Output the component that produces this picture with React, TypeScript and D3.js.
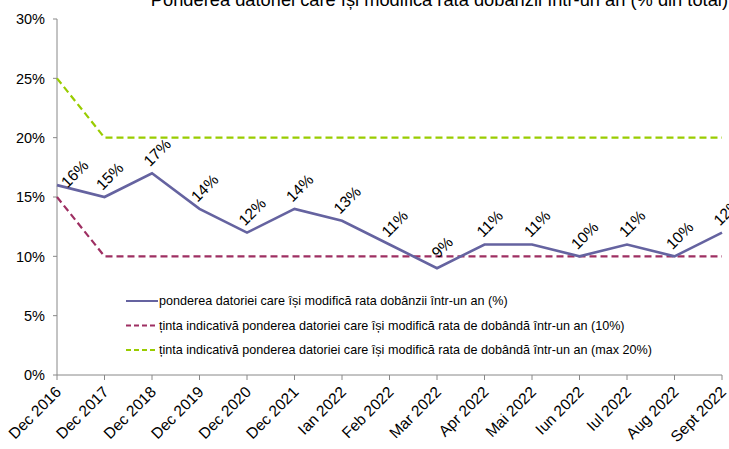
import React from "react";
import * as d3 from "d3";

const categories = ["Dec 2016","Dec 2017","Dec 2018","Dec 2019","Dec 2020","Dec 2021","Ian 2022","Feb 2022","Mar 2022","Apr 2022","Mai 2022","Iun 2022","Iul 2022","Aug 2022","Sept 2022"];
const pondere = [16,15,17,14,12,14,13,11,9,11,11,10,11,10,12];
const tinta10 = [15,10,10,10,10,10,10,10,10,10,10,10,10,10,10];
const tinta20 = [25,20,20,20,20,20,20,20,20,20,20,20,20,20,20];
const yTicks = [0,5,10,15,20,25,30];
const title = "Ponderea datoriei care își modifică rata dobânzii într-un an (% din total)";
const legendLabels = [
  "ponderea datoriei care își modifică rata dobânzii într-un an (%)",
  "ținta indicativă ponderea datoriei  care își modifică rata de dobândă într-un an (10%)",
  "ținta indicativă ponderea datoriei care își modifică rata de dobândă într-un an (max 20%)",
];

const C_MAIN = "#6563A0";
const C_RED = "#9E2F62";
const C_GREEN = "#99CC00";
const FONT = "Arial, 'Liberation Sans', sans-serif";

export default function App() {
  const W = 729, H = 449;
  const left = 57, right = 722, bottom = 375, top = 19;
  const x = d3.scalePoint<string>().domain(categories).range([left, right]);
  const y = d3.scaleLinear().domain([0, 30]).range([bottom, top]);
  const line = d3.line<number>().x((_, i) => x(categories[i])!).y(d => y(d));
  const series = [
    { data: pondere, color: C_MAIN, dash: undefined as string | undefined, w: 2.6 },
    { data: tinta10, color: C_RED, dash: "7,4", w: 2.2 },
    { data: tinta20, color: C_GREEN, dash: "7,4", w: 2.2 },
  ];
  return (
    <svg width={W} height={H} style={{ position: "absolute", left: 0, top: 0, background: "#fff" }} fontFamily={FONT}>
      <rect width={W} height={H} fill="#fff" />
      <text x={728} y={6} textAnchor="end" fontSize={18.3} fill="#000">{title}</text>
      {/* y axis */}
      <line x1={left} x2={left} y1={top} y2={bottom} stroke="#888" />
      {yTicks.map(t => (
        <g key={t}>
          <line x1={left - 4} x2={left} y1={y(t)} y2={y(t)} stroke="#888" />
          <text x={45} y={y(t)} dy="0.36em" textAnchor="end" fontSize={14.5}>{t}%</text>
        </g>
      ))}
      {/* x axis */}
      <line x1={left} x2={right} y1={bottom} y2={bottom} stroke="#888" />
      {categories.map(c => (
        <g key={c}>
          <line x1={x(c)} x2={x(c)} y1={bottom} y2={bottom + 5} stroke="#888" />
          <text transform={`translate(${x(c)! + 5},${bottom + 18}) rotate(-45)`} textAnchor="end" fontSize={15.5}>{c}</text>
        </g>
      ))}
      {series.slice().reverse().map((s, i) => (
        <path key={i} d={line(s.data)!} fill="none" stroke={s.color} strokeWidth={s.w} strokeDasharray={s.dash} />
      ))}
      {pondere.map((v, i) => {
        let cx = x(categories[i])! + 5;
        let cy = y(v) - 21;
        const minCx = left + 17.5;
        if (cx < minCx) {
          const s = minCx - cx;
          cx += s;
          cy += s * 0.75;
        }
        return (
          <text key={i} transform={`translate(${cx},${cy}) rotate(-45)`} textAnchor="middle" dy="0.36em" fontSize={15.5}>{v}%</text>
        );
      })}
      {/* legend */}
      {legendLabels.map((l, i) => (
        <g key={i} transform={`translate(126,${301 + i * 24.5})`}>
          <line x1={0} x2={32} y1={0} y2={0} stroke={series[i].color} strokeWidth={2} strokeDasharray={series[i].dash ? "5,3" : undefined} />
          <text x={33} y={0} dy="0.35em" fontSize={12.6}>{l}</text>
        </g>
      ))}
    </svg>
  );
}
